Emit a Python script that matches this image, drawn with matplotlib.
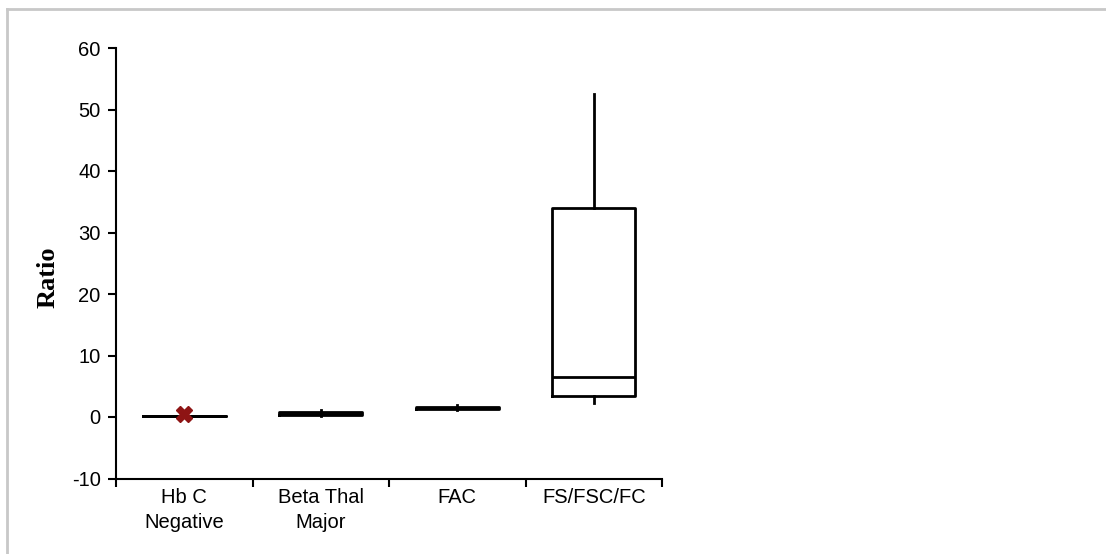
import matplotlib.pyplot as plt
from matplotlib.lines import Line2D

plt.rcParams['axes.unicode_minus'] = False

categories = ['Hb C\nNegative', 'Beta Thal\nMajor', 'FAC', 'FS/FSC/FC']
whisker_low = [0.2, 0.2, 1.2, 2.3]
q1 = [0.2, 0.3, 1.3, 3.4]
median = [0.2, 0.5, 1.5, 6.5]
q3 = [0.2, 0.8, 1.7, 34.0]
whisker_high = [0.2, 1.2, 2.0, 52.5]
marker_x = [1]
marker_y = [0.5]
y_ticks = [-10, 0, 10, 20, 30, 40, 50, 60]

fig = plt.figure(figsize=(11.06, 5.54), dpi=100)
ax = fig.add_axes([116 / 1106, 1 - 478.5 / 554, (662 - 116) / 1106, (478.5 - 48) / 554])

stats = []
for i in range(len(categories)):
    stats.append(dict(whislo=whisker_low[i], q1=q1[i], med=median[i],
                      q3=q3[i], whishi=whisker_high[i], fliers=[]))

lw = 2.0
ax.bxp(stats, positions=range(1, len(categories) + 1), widths=0.61,
       showcaps=False, showfliers=False,
       boxprops=dict(color='black', linewidth=lw),
       medianprops=dict(color='black', linewidth=lw),
       whiskerprops=dict(color='black', linewidth=lw))

ax.plot(marker_x, marker_y, linestyle='none', marker='X', markersize=11,
        color='#8e1414', markeredgecolor='#8e1414', zorder=5)

ax.set_xlim(0.5, len(categories) + 0.5)
ax.set_ylim(-10, 60)
ax.set_yticks(y_ticks)
ax.set_xticks([i + 0.5 for i in range(len(categories) + 1)])
ax.set_xticklabels([])
ax.set_xticks(range(1, len(categories) + 1), minor=True)
ax.set_xticklabels(categories, minor=True, fontsize=14.5, family='Liberation Sans',
                   linespacing=1.4)
ax.tick_params(axis='x', which='minor', length=0, pad=7)
ax.tick_params(axis='x', which='major', length=6, width=1.5, direction='out')
ax.tick_params(axis='y', length=6, width=1.5, direction='out', labelsize=14.5, pad=5)
for lab in ax.get_yticklabels():
    lab.set_family('Liberation Sans')

ax.spines['top'].set_visible(False)
ax.spines['right'].set_visible(False)
ax.spines['left'].set_linewidth(1.5)
ax.spines['bottom'].set_linewidth(1.5)

ax.set_ylabel('Ratio', fontsize=19, fontweight='bold', family='Liberation Serif')
ax.yaxis.set_label_coords(-0.103, 0.468)

# light grey frame around the chart area
fig.add_artist(Line2D([7 / 1106, 7 / 1106], [0, 1 - 9 / 554], color='#c8c8c8', linewidth=2))
fig.add_artist(Line2D([7 / 1106, 1], [1 - 9 / 554, 1 - 9 / 554], color='#c8c8c8', linewidth=2))

fig.savefig('out.png', dpi=100)
